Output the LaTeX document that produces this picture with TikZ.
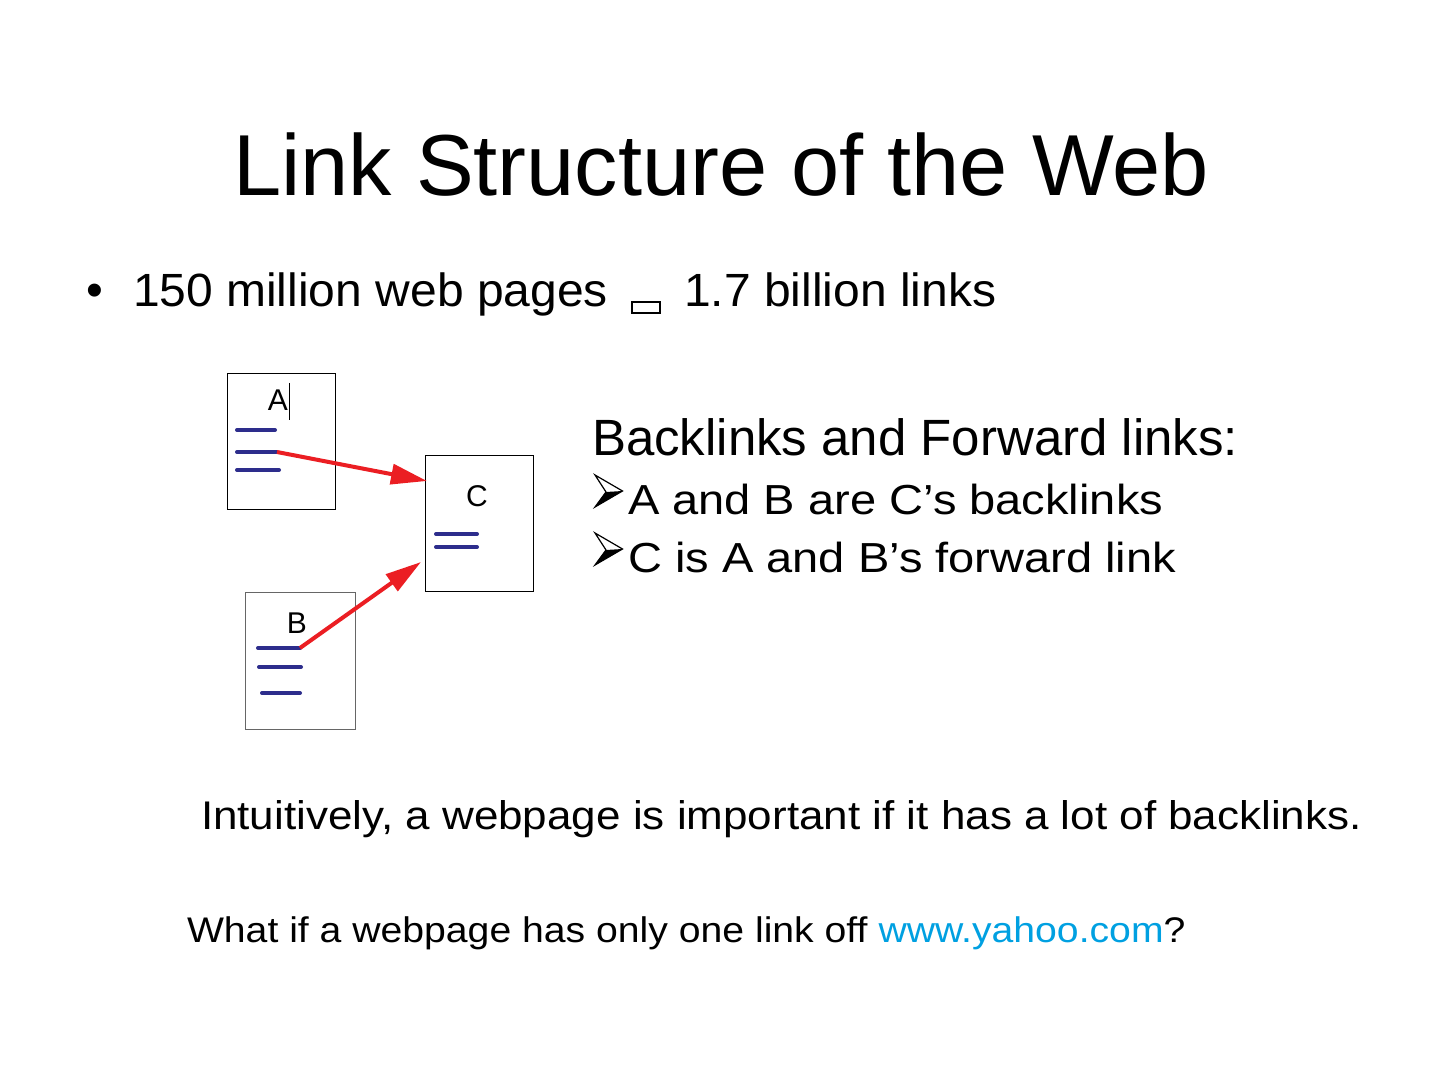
\documentclass[tikz,border=0pt]{standalone}
\usepackage{fontspec}
\setmainfont{Liberation Sans}
\newfontfamily\lineone[FakeStretch=1.03]{Liberation Sans}
\newfontfamily\itemfont[FakeStretch=1.12]{Liberation Sans}
\newfontfamily\bottomfont[FakeStretch=1.1]{Liberation Sans}
\usetikzlibrary{arrows.meta}
\definecolor{navyline}{RGB}{45,45,140}
\definecolor{redarrow}{RGB}{235,30,35}
\definecolor{linkblue}{RGB}{0,160,225}
\tikzset{
  txt/.style={anchor=base west, inner sep=0pt, outer sep=0pt},
  page/.style={draw=black, line width=0.6pt, fill=white},
  textline/.style={draw=navyline, line width=2pt, line cap=round},
  linkarrow/.style={draw=redarrow, line width=2pt, -{Triangle[length=18pt, width=10pt]}},
  pics/itembullet/.style={code={
    \fill[black] (14,-22) -- (30.5,-23) -- (3,-7) -- cycle;
    \draw[line width=0.6pt, line join=miter] (3,-39) -- (30.5,-23) -- (3,-7) -- (14,-22) -- cycle;
  }},
}
\begin{document}
\begin{tikzpicture}[x=0.5pt, y=-0.5pt]
\useasboundingbox (0,0) rectangle (1440,1080);
% title
\node[anchor=base, inner sep=0pt] (title) at (721,196) {\fontsize{43.3pt}{50pt}\selectfont Link Structure of the Web};
% bullet line
\node[anchor=base, inner sep=0pt] (bul) at (95,307) {\fontsize{24pt}{28pt}\selectfont\textbullet};
\node[txt] (l1a) at (133,307) {\lineone\fontsize{23.3pt}{28pt}\selectfont 150 million web pages};
\draw[line width=1.2pt] (632,302) rectangle (660,313);
\node[txt] (l1b) at (684,307) {\lineone\fontsize{23.3pt}{28pt}\selectfont 1.7 billion links};
% pages
\node[page, minimum width=54pt, minimum height=68pt, anchor=north west] (A) at (227,373) {};
\node[page, minimum width=54pt, minimum height=68pt, anchor=north west] (C) at (425,455) {};
\node[page, draw=black!60, minimum width=55pt, minimum height=68.5pt, anchor=north west] (B) at (245,592) {};
\node[anchor=base, inner sep=0pt] (Alab) at (278,411) {\fontsize{15pt}{18pt}\selectfont A};
\draw[line width=0.5pt] (289,383) -- (289,420);
\node[anchor=base, inner sep=0pt] (Clab) at (477,506) {\fontsize{15pt}{18pt}\selectfont C};
\node[anchor=base, inner sep=0pt] (Blab) at (297,633) {\fontsize{15pt}{18pt}\selectfont B};
% text lines
\draw[textline] (237,430) -- (275,430);
\coordinate (a2s) at (237,452);
\coordinate (a2e) at (277,452);
\draw[textline] (a2s) -- (a2e);
\draw[textline] (237,470) -- (279,470);
\draw[textline] (436,534) -- (477,534);
\draw[textline] (436,547) -- (477,547);
\coordinate (b1s) at (258,648);
\coordinate (b1e) at (300,648);
\draw[textline] (b1s) -- (b1e);
\draw[textline] (259,667) -- (301,667);
\draw[textline] (262,693) -- (300,693);
% arrows
\coordinate (cinA) at (427,481);
\coordinate (cinB) at (421,562);
\draw[linkarrow] (a2e) -- (cinA);
\draw[linkarrow] (b1e) -- (cinB);
% right text
\node[txt] (bf) at (592,456) {\fontsize{25.5pt}{30pt}\selectfont Backlinks and Forward links:};
\pic at (592,514) {itembullet};
\node[txt] (i1) at (628,514) {\itemfont\fontsize{21pt}{26pt}\selectfont A and B are C’s backlinks};
\pic at (592,572) {itembullet};
\node[txt] (i2) at (628,572) {\itemfont\fontsize{21pt}{26pt}\selectfont C is A and B’s forward link};
% bottom
\node[txt] (intu) at (201,829) {\bottomfont\fontsize{20pt}{24pt}\selectfont Intuitively, a webpage is important if it has a lot of backlinks.};
\node[txt] (what) at (187,942) {\bottomfont\fontsize{17.8pt}{22pt}\selectfont What if a webpage has only one link off \textcolor{linkblue}{www.yahoo.com}?};
\end{tikzpicture}
\end{document}
